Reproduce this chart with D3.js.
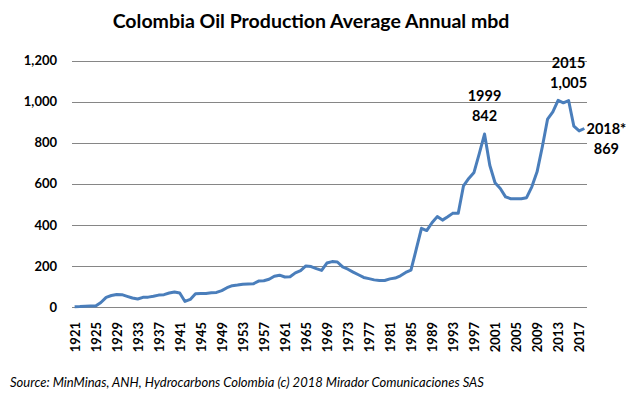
<!DOCTYPE html>
<html>
<head>
<meta charset="utf-8">
<script src="https://cdn.jsdelivr.net/npm/d3@7"></script>
<style>
  body { margin: 0; background: #fff; }
  text { font-family: Lato, "Open Sans", sans-serif; fill: #000; }
</style>
</head>
<body>
<div id="chart"></div>
<script>
// Colombia oil production, thousand barrels per day, 1921-2018
var years = d3.range(1921, 2019);
var production = [
  1, 2, 4, 5, 5, 22, 47, 56, 61, 60,          // 1921-1930
  52, 44, 39, 47, 48, 52, 58, 60, 68, 73,     // 1931-1940
  68, 27, 37, 65, 66, 66, 69, 71, 80, 94,     // 1941-1950
  104, 107, 111, 112, 113, 126, 128, 135, 150, 155, // 1951-1960
  146, 147, 166, 177, 200, 197, 187, 178, 214, 221, // 1961-1970
  219, 195, 184, 170, 157, 144, 138, 132, 129, 129, // 1971-1980
  137, 141, 152, 168, 179, 280, 383, 372, 410, 440, // 1981-1990
  423, 439, 457, 456, 590, 626, 655, 747, 842, 690, // 1991-2000
  605, 577, 536, 527, 527, 527, 532, 585, 658, 780, // 2001-2010
  915, 950, 1006, 994, 1005, 880, 857, 869          // 2011-2018
];
var yTicks = [0, 200, 400, 600, 800, 1000, 1200];
var xTickYears = d3.range(1921, 2019, 4);
var notes = [
  { year: 1999, lines: ["1999", "842"] },
  { year: 2015, lines: ["2015", "1,005"] },
  { year: 2018, lines: ["2018*", "869"] }
];

var width = 643, height = 398;
var plotLeft = 72, plotRight = 587, plotTop = 60.5, plotBottom = 307;

var svg = d3.select("#chart").append("svg")
  .attr("width", width)
  .attr("height", height);

var x = d3.scalePoint()
  .domain(years)
  .range([plotLeft, plotRight])
  .padding(0.5);

var y = d3.scaleLinear()
  .domain([0, 1200])
  .range([plotBottom, plotTop]);

// title
svg.append("text")
  .attr("x", 311)
  .attr("y", 28)
  .attr("text-anchor", "middle")
  .style("font-size", "19.5px")
  .style("font-weight", "bold")
  .text("Colombia Oil Production Average Annual mbd");

// gridlines
svg.append("g")
  .selectAll("line")
  .data(yTicks)
  .enter()
  .append("line")
  .attr("x1", plotLeft)
  .attr("x2", plotRight)
  .attr("y1", function (d) { return Math.round(y(d)) + 0.5; })
  .attr("y2", function (d) { return Math.round(y(d)) + 0.5; })
  .attr("stroke", "#868686")
  .attr("stroke-width", 1);

// y axis labels
var yAxis = d3.axisLeft(y)
  .tickValues(yTicks)
  .tickSize(0)
  .tickPadding(0)
  .tickFormat(d3.format(","));
svg.append("g")
  .attr("transform", "translate(57,0)")
  .call(yAxis)
  .call(function (g) { g.select(".domain").remove(); })
  .selectAll("text")
  .style("font-family", "Lato, sans-serif")
  .style("font-size", "13px")
  .style("font-weight", "bold")
  .attr("fill", "#000");

// x axis labels
var xAxis = d3.axisBottom(x)
  .tickValues(xTickYears)
  .tickSize(0)
  .tickPadding(0);
svg.append("g")
  .attr("transform", "translate(0,318)")
  .call(xAxis)
  .call(function (g) { g.select(".domain").remove(); })
  .selectAll("text")
  .attr("transform", "rotate(-90)")
  .attr("text-anchor", "end")
  .attr("x", -4)
  .attr("y", 0)
  .attr("dy", "0.35em")
  .style("font-family", "Lato, sans-serif")
  .style("font-size", "13px")
  .style("font-weight", "bold")
  .attr("fill", "#000");

// production line
var line = d3.line()
  .x(function (d, i) { return x(years[i]); })
  .y(function (d) { return y(d); });

svg.append("path")
  .datum(production)
  .attr("d", line)
  .attr("fill", "none")
  .attr("stroke", "#4a7ebb")
  .attr("stroke-width", 3)
  .attr("stroke-linejoin", "round");

// data annotations
var noteG = svg.append("g")
  .selectAll("g")
  .data(notes)
  .enter()
  .append("g")
  .attr("transform", function (d) {
    var v = production[years.indexOf(d.year)];
    if (d.year === 2018) return "translate(" + (x(d.year) + 22) + "," + (y(v) + 5.5) + ")";
    return "translate(" + x(d.year) + "," + (y(v) - 33) + ")";
  });

noteG.selectAll("text")
  .data(function (d) { return d.lines; })
  .enter()
  .append("text")
  .attr("text-anchor", "middle")
  .attr("y", function (d, i) { return i * 20; })
  .style("font-size", "14.5px")
  .style("font-weight", "bold")
  .text(function (d) { return d; });

// source
svg.append("text")
  .attr("x", 10)
  .attr("y", 387)
  .style("font-size", "13px")
  .style("font-style", "italic")
  .text("Source:  MinMinas, ANH, Hydrocarbons Colombia (c) 2018 Mirador Comunicaciones SAS");
</script>
</body>
</html>
